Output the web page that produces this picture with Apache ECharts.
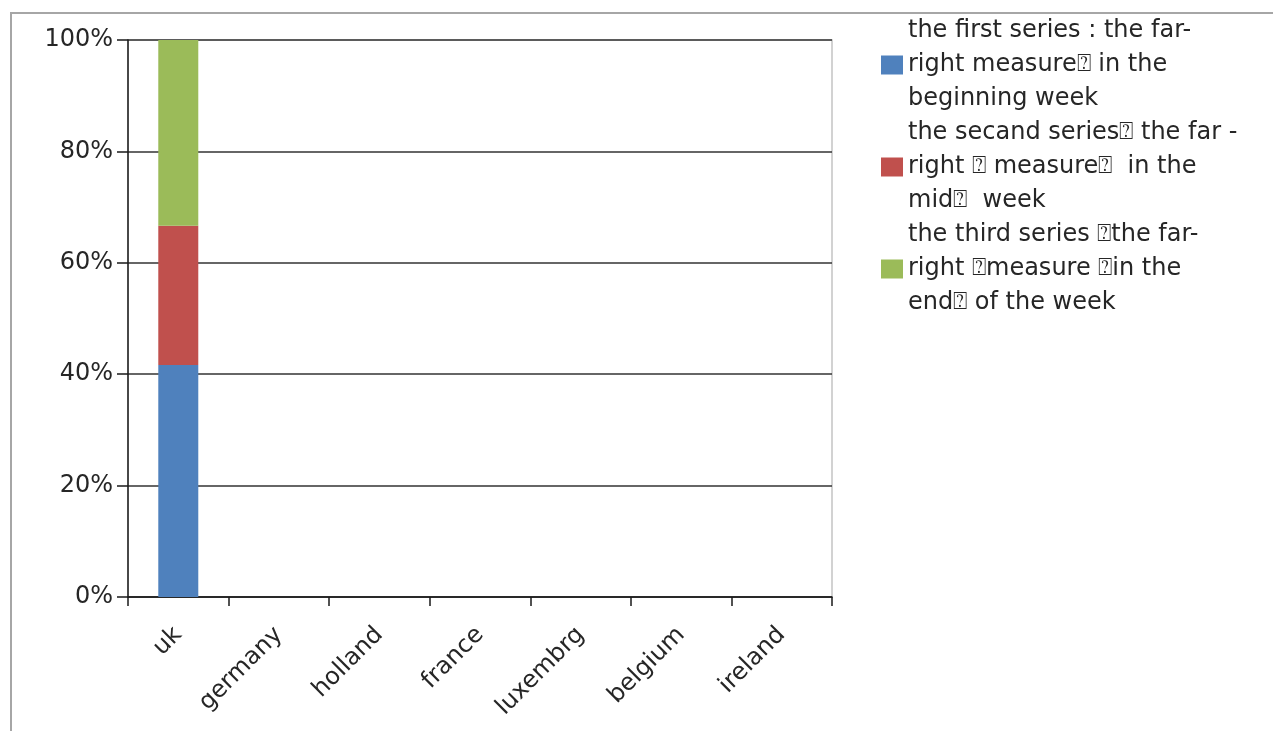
<!DOCTYPE html>
<html>
<head>
<meta charset="utf-8">
<script src="https://cdn.jsdelivr.net/npm/echarts@6/dist/echarts.min.js"></script>
<style>
  html, body { margin: 0; padding: 0; background: #ffffff; }
  #chart { width: 1273px; height: 731px; }
</style>
</head>
<body>
<div id="chart"></div>
<script>
// Countries along the x axis
const countries = ['uk', 'germany', 'holland', 'france', 'luxembrg', 'belgium', 'ireland'];

// Legend / series names (three-line wrapped labels)
const seriesNames = [
  'the first series : the far-\nright measure\u2370 in the\nbeginning week',
  'the secand series\u2370 the far -\nright \u2370 measure\u2370  in the\nmid\u2370  week',
  'the third series \u2370the far-\nright \u2370measure \u2370in the\nend\u2370 of the week'
];

// Raw counts per country for each part of the week
const beginningWeek = [5, 0, 0, 0, 0, 0, 0];
const midWeek       = [3, 0, 0, 0, 0, 0, 0];
const endWeek       = [4, 0, 0, 0, 0, 0, 0];

const seriesColors = ['#4F81BD', '#C0504D', '#9BBB59'];

// 100% stacking: each value as a share of its country's total
const rawSeries = [beginningWeek, midWeek, endWeek];
const totals = countries.map((_, i) => rawSeries.reduce((s, arr) => s + arr[i], 0));
const shares = rawSeries.map(arr => arr.map((v, i) => totals[i] ? v / totals[i] * 100 : 0));

const textColor = '#262626';
const fontFamily = 'DejaVu Sans';

const chart = echarts.init(document.getElementById('chart'), null, { renderer: 'canvas' });

chart.setOption({
  animation: false,
  backgroundColor: '#ffffff',
  textStyle: { fontFamily: fontFamily, color: textColor },
  graphic: [{
    // outer chart frame
    type: 'rect',
    shape: { x: 11, y: 13, width: 1400, height: 900 },
    style: { fill: 'none', stroke: '#a6a6a6', lineWidth: 2 },
    silent: true
  }],
  grid: {
    left: 128, right: 441, top: 40, bottom: 134,
    show: true, borderColor: '#c4c4c4', borderWidth: 1.5, backgroundColor: 'transparent'
  },
  legend: {
    orient: 'vertical',
    left: 876, top: 9,
    itemWidth: 22, itemHeight: 19, itemGap: 0,
    icon: 'rect',
    data: seriesNames,
    textStyle: { fontFamily: fontFamily, fontSize: 24, lineHeight: 34, color: textColor }
  },
  xAxis: {
    type: 'category',
    data: countries,
    boundaryGap: true,
    axisLine: { show: true, lineStyle: { color: '#1a1a1a', width: 1.5 } },
    axisTick: { show: true, length: 9, alignWithLabel: false, interval: 0, lineStyle: { color: '#1a1a1a', width: 1.5 } },
    axisLabel: { interval: 0, rotate: 45, margin: 34, fontSize: 24, color: textColor, fontFamily: fontFamily }
  },
  yAxis: {
    type: 'value',
    min: 0, max: 100, interval: 20,
    axisLine: { show: true, lineStyle: { color: '#1a1a1a', width: 1.5 } },
    axisTick: { show: true, length: 11, lineStyle: { color: '#1a1a1a', width: 1.5 } },
    axisLabel: { formatter: '{value}%', margin: 15, fontSize: 24, color: textColor, fontFamily: fontFamily },
    splitLine: { show: true, lineStyle: { color: '#333333', width: 1.5 } }
  },
  series: shares.map((data, k) => ({
    name: seriesNames[k],
    type: 'bar',
    stack: 'week',
    barWidth: 40,
    itemStyle: { color: seriesColors[k] },
    data: data
  }))
});
</script>
</body>
</html>
